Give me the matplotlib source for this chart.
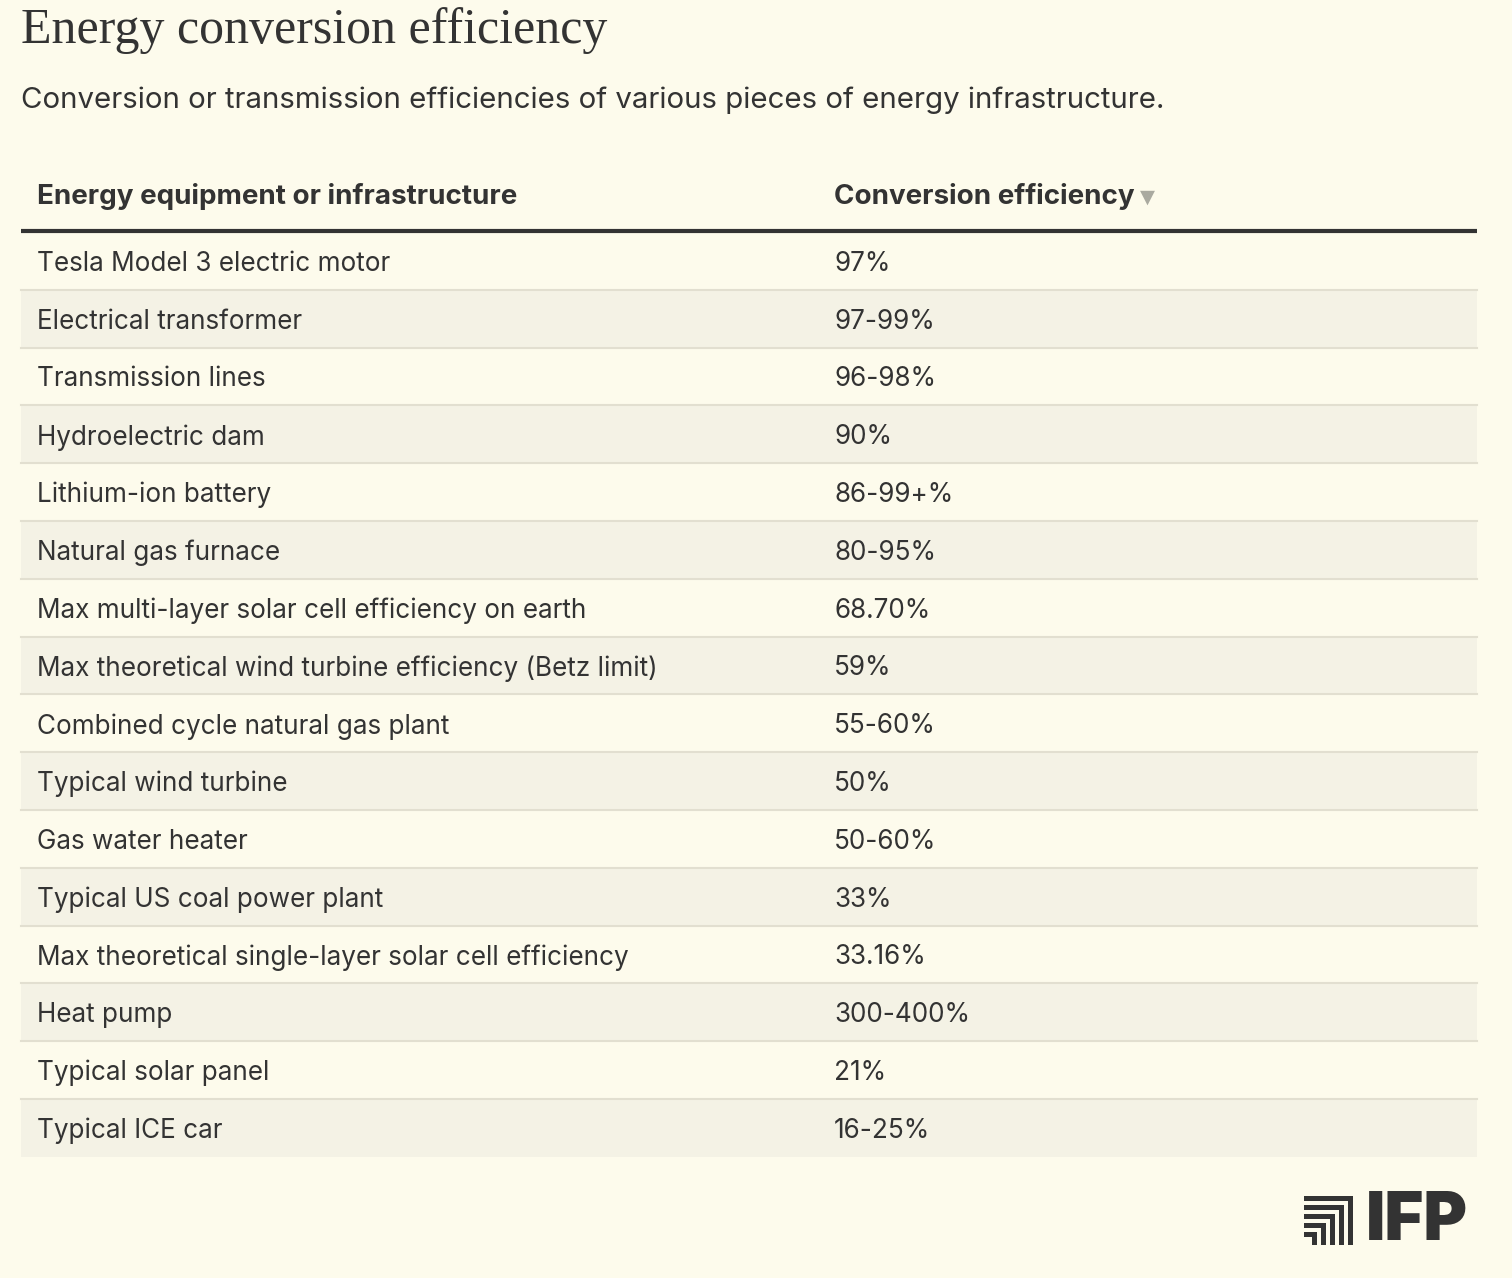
import matplotlib
matplotlib.use("Agg")
import matplotlib.pyplot as plt
from matplotlib.patches import Rectangle

title = "Energy conversion efficiency"
subtitle = "Conversion or transmission efficiencies of various pieces of energy infrastructure."
col_headers = ["Energy equipment or infrastructure", "Conversion efficiency"]
equipment = ["Tesla Model 3 electric motor", "Electrical transformer", "Transmission lines",
             "Hydroelectric dam", "Lithium-ion battery", "Natural gas furnace",
             "Max multi-layer solar cell efficiency on earth",
             "Max theoretical wind turbine efficiency (Betz limit)",
             "Combined cycle natural gas plant", "Typical wind turbine", "Gas water heater",
             "Typical US coal power plant", "Max theoretical single-layer solar cell efficiency",
             "Heat pump", "Typical solar panel", "Typical ICE car"]
efficiency = ["97%", "97-99%", "96-98%", "90%", "86-99+%", "80-95%", "68.70%", "59%",
              "55-60%", "50%", "50-60%", "33%", "33.16%", "300-400%", "21%", "16-25%"]

BG = "#FDFBEC"
STRIPE = "#F4F2E5"
TXT = "#333333"
fig = plt.figure(figsize=(15.12, 12.78), dpi=100, facecolor=BG)
ax = fig.add_axes([0, 0, 1, 1])
ax.set_xlim(0, 1512); ax.set_ylim(1278, 0); ax.axis("off")

ax.text(21, 31, title, fontsize=36, family="Liberation Serif", color=TXT, va="center")
ax.text(21, 100, subtitle, fontsize=21.2, family="Inter", color=TXT, va="center")
ax.text(37, 196, col_headers[0], fontsize=20, family="Inter", weight="bold", color=TXT, va="center")
ax.text(834, 196, col_headers[1], fontsize=20, family="Inter", weight="bold", color=TXT, va="center")
ax.text(1140, 197, "▼", fontsize=14, family="DejaVu Sans", color="#AAAAA0", va="center")
ax.plot([21, 1477], [231, 231], color=TXT, lw=3, solid_capstyle="butt")

top, h = 232, 57.8
for i, (e, v) in enumerate(zip(equipment, efficiency)):
    y0 = top + i * h
    if i % 2 == 1:
        ax.add_patch(Rectangle((21, y0), 1456, h, color=STRIPE, lw=0))
    if i < len(equipment) - 1:
        ax.plot([21, 1477], [y0 + h, y0 + h], color="#E2DFD0", lw=1.5)
    ax.text(37, y0 + h / 2 + 3, e, fontsize=18.8, family="Inter", color=TXT, va="center")
    ax.text(834, y0 + h / 2 + 3, v, fontsize=18.8, family="Inter", color=TXT, va="center")

# logo
for k in range(5):
    w = 49 - k * 9
    yb = 1196 + k * 9
    ax.add_patch(Rectangle((1304, yb), w, 5, color=TXT, lw=0))
    ax.add_patch(Rectangle((1304 + w - 5, yb), 5, 1245 - yb, color=TXT, lw=0))
ax.text(1366, 1222, "IFP", fontsize=48, family="Inter", weight="black", color=TXT, va="center")

fig.savefig("out.png", dpi=100, facecolor=BG)
